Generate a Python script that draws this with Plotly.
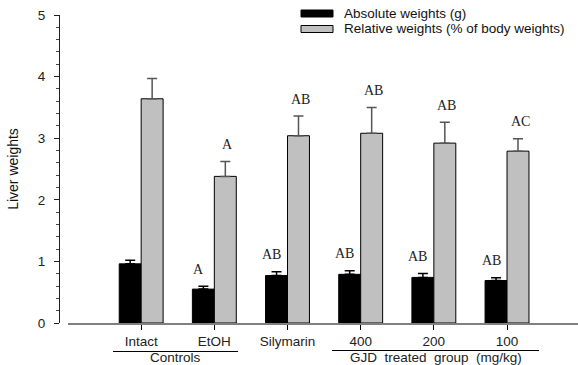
import plotly.graph_objects as go

categories = ["Intact", "EtOH", "Silymarin", "400", "200", "100"]
series_names = ["Absolute weights (g)", "Relative weights (% of body weights)"]
absolute_vals = [0.96, 0.55, 0.77, 0.79, 0.74, 0.69]
absolute_err = [0.06, 0.045, 0.06, 0.06, 0.065, 0.045]
relative_vals = [3.64, 2.38, 3.04, 3.08, 2.92, 2.79]
relative_err = [0.33, 0.24, 0.32, 0.42, 0.34, 0.20]
absolute_letters = ["", "A", "AB", "AB", "AB", "AB"]
relative_letters = ["", "A", "AB", "AB", "AB", "AC"]
y_ticks = [0, 1, 2, 3, 4, 5]
group_labels = ["Controls", "GJD\u00a0\u00a0treated\u00a0\u00a0group\u00a0\u00a0(mg/kg)"]

W, H = 578, 365
ML, MR, MT, MB = 59, 0, 15, 42
PW = W - ML - MR
PH = H - MT - MB


def px(x):
    return (x - ML) / PW


def py(y):
    return (H - MB - y) / PH


fig = go.Figure()
fig.add_trace(go.Bar(
    x=categories, y=absolute_vals, name=series_names[0],
    marker=dict(color="black", line=dict(color="black", width=1)),
    error_y=dict(type="data", array=absolute_err, arrayminus=[0] * len(absolute_err),
                 symmetric=False, color="black", thickness=1.5, width=5),
    showlegend=False,
))
fig.add_trace(go.Bar(
    x=categories, y=relative_vals, name=series_names[1],
    marker=dict(color="#c0c0c0", line=dict(color="black", width=1)),
    error_y=dict(type="data", array=relative_err, arrayminus=[0] * len(relative_err),
                 symmetric=False, color="#555555", thickness=1.5, width=5),
    showlegend=False,
))

annotations = []
letter_font = dict(family="Liberation Serif", size=14, color="#222")
for i, (v, e, t) in enumerate(zip(absolute_vals, absolute_err, absolute_letters)):
    if t:
        annotations.append(dict(x=i, y=v + e, xref="x", yref="y", text=t, showarrow=False,
                                xshift=-16, yshift=17, yanchor="middle", font=letter_font))
for i, (v, e, t) in enumerate(zip(relative_vals, relative_err, relative_letters)):
    if t:
        annotations.append(dict(x=i, y=v + e, xref="x", yref="y", text=t, showarrow=False,
                                xshift=13, yshift=17, yanchor="middle", font=letter_font))

# custom legend
shapes = []
legend_colors = ["black", "#c0c0c0"]
legend_y = [13.5, 29]
for name, col, yc in zip(series_names, legend_colors, legend_y):
    shapes.append(dict(type="rect", xref="paper", yref="paper",
                       x0=px(301), x1=px(333), y0=py(yc - 3.5), y1=py(yc + 3.5),
                       fillcolor=col, line=dict(color="black", width=1)))
    annotations.append(dict(x=px(342), y=py(yc), xref="paper", yref="paper", text=name,
                            showarrow=False, xanchor="left", yanchor="middle",
                            font=dict(family="Liberation Sans", size=13.5, color="#111")))

# group brackets
brackets = [(113, 238, 351.5), (332, 539, 350.5)]
for (x0, x1, yl), lab in zip(brackets, group_labels):
    shapes.append(dict(type="line", xref="paper", yref="paper",
                       x0=px(x0), x1=px(x1), y0=py(yl), y1=py(yl),
                       line=dict(color="black", width=1)))
    annotations.append(dict(x=px((x0 + x1) / 2), y=py(357), xref="paper", yref="paper",
                            text=lab, showarrow=False, xanchor="center", yanchor="middle",
                            font=dict(family="Liberation Sans", size=13.5, color="#222")))

fig.update_layout(
    width=W, height=H,
    margin=dict(l=ML, r=MR, t=MT, b=MB, pad=0, autoexpand=False),
    paper_bgcolor="white", plot_bgcolor="white",
    barmode="group", bargap=0.4, bargroupgap=0,
    annotations=annotations, shapes=shapes,
    font=dict(family="Liberation Sans", size=13, color="#222"),
    xaxis=dict(type="category", domain=[px(68), 1], range=[-1.0, 5.97],
               showgrid=False, zeroline=False,
               showline=True, linecolor="#808080", linewidth=2,
               ticks="outside", ticklen=5, tickcolor="black", tickwidth=1,
               tickfont=dict(family="Liberation Sans", size=13.5, color="#222")),
    yaxis=dict(anchor="free", position=0, range=[0, 5], tickvals=y_ticks,
               showgrid=False, zeroline=False,
               showline=True, linecolor="#222", linewidth=1,
               ticks="outside", ticklen=5, tickcolor="#222",
               minor=dict(dtick=0.2, ticks="outside", ticklen=3, tickcolor="#444"),
               tickfont=dict(family="Liberation Sans", size=13.5, color="#222"),
               ticklabelstandoff=6, ticklabeloverflow="allow",
               title=dict(text="Liver weights", standoff=14,
                          font=dict(family="Liberation Sans", size=14, color="#111"))),
)

fig.write_html(
    "out.html",
    config={"displayModeBar": False, "staticPlot": True},
    post_script="document.body.style.margin='0';document.body.style.overflow='hidden';",
)
